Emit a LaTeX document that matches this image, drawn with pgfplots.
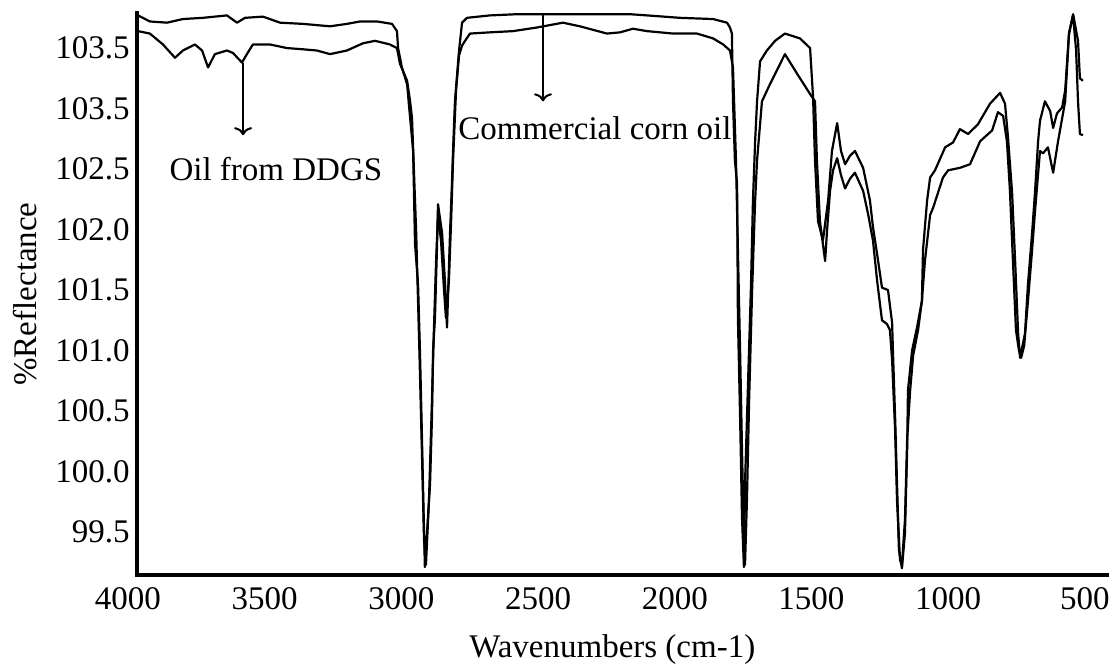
\documentclass[border=0pt]{standalone}
\usepackage{fontspec}
\setmainfont{Liberation Serif}
\usepackage{pgfplots}
\pgfplotsset{compat=1.18}
\usetikzlibrary{arrows.meta}
\begin{document}
\fontsize{16.5}{19}\selectfont
\begin{tikzpicture}[font=\fontsize{16.5}{19}\selectfont]
\useasboundingbox (-68.5pt,-46.5pt) rectangle (486pt,287.5pt);
\begin{axis}[
  scale only axis, width=485pt, height=281pt,
  x dir=reverse, xmin=419, xmax=3967, ymin=99.145, ymax=103.79,
  axis lines=left,
  axis line style={-, line width=2pt, line cap=rect},
  major tick length=0pt,
  clip=false,
  xtick={500,1000,1500,2000,2500,3000,3500},
  xticklabels={500,1000,1500,2000,2500,3000,3500},
  ytick={99.5,100,100.5,101,101.5,102,102.5,103,103.5},
  yticklabels={99.5,100.0,100.5,101.0,101.5,102.0,102.5,103.5,103.5},
  xticklabel style={anchor=north, inner sep=0pt, yshift=-6pt},
  yticklabel style={anchor=east, inner sep=0pt, xshift=-3.5pt},
  xlabel={Wavenumbers (cm-1)},
  ylabel={\%Reflectance},
  xlabel style={at={(axis description cs:0.49,-0.1335)}, anchor=center},
  ylabel style={at={(axis description cs:-0.1155,0.5)}, anchor=center, rotate=0},
]
% Commercial corn oil (upper)
\addplot[black, line width=1.1pt, line join=round] coordinates {
(3963,103.77)(3920,103.72)(3857,103.71)(3799,103.74)(3726,103.75)(3638,103.77)
(3601,103.71)(3572,103.75)(3506,103.76)(3444,103.71)(3360,103.70)(3261,103.68)
(3199,103.70)(3151,103.72)(3089,103.72)(3034,103.70)(3016,103.64)(3012,103.50)
(2998,103.34)(2979,103.20)(2957,102.65)(2950,101.88)(2939,101.55)(2932,101.00)
(2925,100.32)(2921,99.90)(2914,99.21)(2895,99.90)(2888,100.45)(2884,101.00)
(2877,101.27)(2870,101.83)(2866,102.21)(2851,101.97)(2840,101.55)(2833,101.19)
(2829,101.47)(2822,101.97)(2815,102.38)(2811,102.65)(2804,103.06)(2789,103.48)
(2778,103.71)(2760,103.75)(2676,103.77)(2577,103.78)(2467,103.78)(2347,103.78)
(2164,103.78)(2101,103.77)(1981,103.75)(1860,103.74)(1809,103.71)(1798,103.67)
(1791,103.62)(1787,103.06)(1780,102.57)(1772,102.38)(1769,101.27)(1761,100.45)
(1754,99.62)(1747,99.21)(1743,99.90)(1732,100.73)(1721,101.55)(1714,102.24)
(1706,102.73)(1699,103.06)(1688,103.39)(1663,103.48)(1633,103.56)(1597,103.62)
(1542,103.58)(1505,103.50)(1494,103.09)(1487,102.57)(1476,102.07)(1458,101.91)
(1439,102.24)(1425,102.65)(1406,102.88)(1392,102.65)(1377,102.54)(1359,102.61)
(1341,102.65)(1311,102.51)(1286,102.24)(1275,102.02)(1260,101.80)(1242,101.52)
(1220,101.50)(1205,101.23)(1202,101.00)(1194,100.45)(1187,99.90)(1180,99.35)
(1169,99.20)(1158,99.49)(1150,100.18)(1147,100.67)(1132,101.00)(1114,101.19)
(1096,101.41)(1092,101.83)(1077,102.24)(1066,102.43)(1048,102.49)(1011,102.68)
(982,102.72)(957,102.83)(927,102.79)(891,102.87)(847,103.04)(810,103.13)
(792,103.04)(781,102.76)(766,102.30)(755,101.74)(744,101.14)(737,100.94)
(719,101.14)(708,101.55)(693,101.97)(682,102.32)(671,102.73)(664,102.90)
(646,103.06)(627,102.98)(616,102.84)(602,102.96)(583,103.01)(572,103.15)
(558,103.62)(543,103.78)(525,103.56)(518,103.25)(507,103.23)
};
% Oil from DDGS (lower)
\addplot[black, line width=1.1pt, line join=round] coordinates {
(3963,103.64)(3920,103.62)(3872,103.53)(3828,103.42)(3799,103.48)(3755,103.53)
(3729,103.48)(3707,103.34)(3682,103.45)(3638,103.48)(3616,103.46)(3583,103.38)
(3565,103.45)(3543,103.53)(3481,103.53)(3418,103.50)(3360,103.49)(3309,103.48)
(3261,103.45)(3199,103.48)(3140,103.54)(3096,103.56)(3042,103.53)(3016,103.50)
(3005,103.37)(2979,103.23)(2968,103.06)(2961,102.92)(2946,101.99)(2935,101.08)
(2925,100.18)(2917,99.43)(2910,99.23)(2899,99.76)(2888,100.59)(2881,101.17)
(2873,101.74)(2866,102.12)(2855,101.91)(2844,101.50)(2837,101.27)(2826,101.58)
(2818,102.07)(2811,102.57)(2800,103.15)(2789,103.44)(2778,103.52)(2767,103.56)
(2749,103.62)(2676,103.63)(2592,103.64)(2504,103.67)(2409,103.71)(2347,103.68)
(2248,103.62)(2200,103.63)(2153,103.66)(2101,103.64)(2006,103.62)(1919,103.62)
(1860,103.58)(1823,103.53)(1798,103.48)(1787,103.34)(1776,102.57)(1769,101.83)
(1761,101.00)(1754,100.18)(1747,99.43)(1743,99.23)(1736,99.76)(1728,100.59)
(1717,101.50)(1706,102.24)(1699,102.57)(1681,103.06)(1652,103.20)(1597,103.45)
(1553,103.29)(1505,103.12)(1487,103.06)(1480,102.57)(1469,102.07)(1450,101.74)
(1443,101.99)(1432,102.32)(1421,102.49)(1406,102.59)(1392,102.45)(1377,102.34)
(1359,102.42)(1341,102.47)(1311,102.32)(1293,102.13)(1275,101.91)(1260,101.58)
(1242,101.25)(1224,101.22)(1213,101.17)(1205,100.92)(1194,100.34)(1187,99.76)
(1176,99.27)(1169,99.23)(1158,99.60)(1150,100.26)(1139,100.67)(1128,100.96)
(1110,101.17)(1096,101.41)(1085,101.74)(1066,102.12)(1055,102.18)(1019,102.43)
(1000,102.49)(957,102.51)(920,102.54)(883,102.73)(839,102.82)(818,102.97)
(799,102.94)(785,102.73)(774,102.32)(763,101.74)(752,101.17)(741,101.00)
(733,100.94)(722,101.04)(708,101.41)(693,101.83)(682,102.16)(664,102.65)
(653,102.63)(635,102.68)(616,102.47)(598,102.73)(572,103.06)(558,103.62)
(543,103.77)(532,103.48)(525,103.06)(518,102.79)(507,102.78)
};
\node[anchor=north, inner sep=0pt, yshift=-6pt] at (axis cs:4000,99.145) {4000};
\draw[line width=1pt, -{To[length=4pt,width=9pt]}] (axis cs:3579,103.38) -- (axis cs:3579,102.78);
\draw[line width=1pt, -{To[length=4pt,width=9pt]}] (axis cs:2482,103.78) -- (axis cs:2482,103.06);
\node[anchor=center, inner sep=0pt] at (axis cs:3459,102.50) {Oil from DDGS};
\node[anchor=center, inner sep=0pt] at (axis cs:2292,102.84) {Commercial corn oil};
\end{axis}
\end{tikzpicture}
\end{document}
